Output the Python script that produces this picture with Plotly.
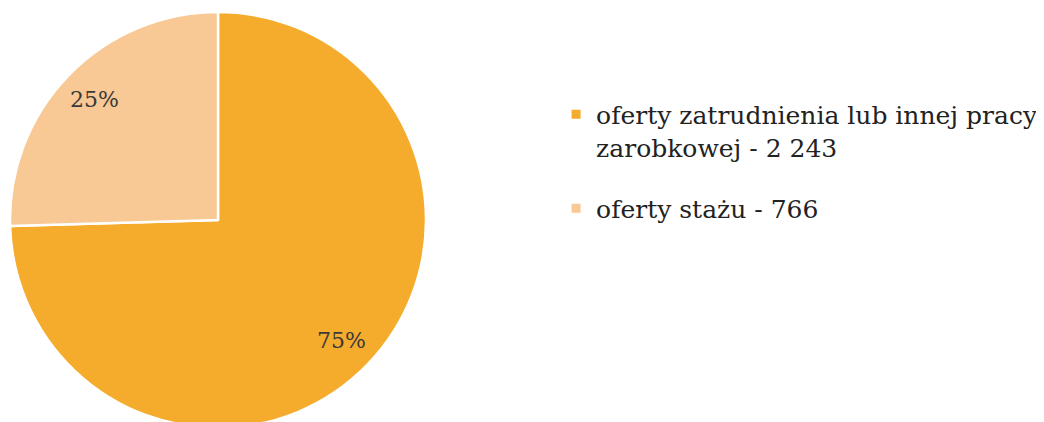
import math
import plotly.graph_objects as go

# dane
labels = ["oferty zatrudnienia lub innej pracy<br>zarobkowej - 2 243", "oferty stażu - 766"]
values = [2243, 766]
colors = ["#F5AC2C", "#F8C895"]

W, H = 1044, 422
FONT = "DejaVu Serif"

# pie geometry (px in figure coords)
cx, cy, R = 210, 212, 208

fig = go.Figure()
fig.add_trace(
    go.Pie(labels=labels,
           values=values,
           sort=False,
           direction='clockwise',
           rotation=0,
           marker=dict(colors=colors, line=dict(color='white', width=2.5)),
           textinfo='none',
           hoverinfo='label+percent',
           showlegend=False,
           domain=dict(x=[(cx - R) / W, (cx + R) / W],
                       y=[(H - cy - R) / H, (H - cy + R) / H])))

# percent labels placed at the slice mid angle
total = sum(values)
start = 0
for v in values:
    mid = (start + v / 2) / total * 2 * math.pi
    start += v
    k = 0.83
    fig.add_annotation(x=(cx + k * R * math.sin(mid)) / W,
                       y=1 - (cy - k * R * math.cos(mid)) / H,
                       xref='paper',
                       yref='paper',
                       xanchor='center',
                       yanchor='middle',
                       text='%d%%' % round(v / total * 100),
                       showarrow=False,
                       font=dict(family=FONT, size=22, color='#3a3a3a'))

# legend entries
for lab, col in zip(labels, colors):
    fig.add_trace(
        go.Scatter(x=[None],
                   y=[None],
                   mode='markers',
                   name=lab,
                   legendgroup=lab,
                   marker=dict(symbol='square', size=9, color=col)))

fig.update_xaxes(visible=False)
fig.update_yaxes(visible=False)

fig.update_layout(
    width=W,
    height=H,
    margin=dict(l=0, r=0, t=0, b=0),
    paper_bgcolor='white',
    plot_bgcolor='white',
    showlegend=True,
    legend=dict(x=0.525,
                y=0.802,
                xanchor='left',
                yanchor='top',
                valign='top',
                font=dict(family=FONT, size=25, color='#222222'),
                tracegroupgap=26,
                itemwidth=30))

fig.write_html("out.html")
